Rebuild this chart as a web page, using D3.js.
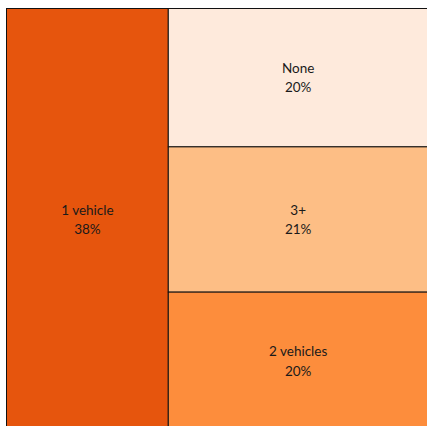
<!DOCTYPE html>
<html>
<head>
<meta charset="utf-8">
<style>
    body { margin: 0; background: #fff; }
    svg { display: block; overflow: hidden; }
    .cell rect { stroke: #111; stroke-width: 1; }
    .cell text {
        font-family: 'Lato', 'DejaVu Sans', sans-serif;
        font-size: 13.5px;
        fill: #1a1a1a;
        text-anchor: middle;
    }
</style>
</head>
<body>
<svg width="427" height="426"></svg>

<script src="https://d3js.org/d3.v7.min.js"></script>
<script>
    // vehicles per household, share in percent
    let categories = ["1 vehicle", "None", "3+", "2 vehicles"];
    let shares = [38, 20, 21, 20];
    let colors = ["#e6550d", "#feeadc", "#fdbe85", "#fd8d3c"];

    let width = 427;
    let height = 426;
    let margin = { top: 8.5, left: 6.5 };
    // the plot runs a little past the right and bottom edges of the picture
    let plotW = 421.5;
    let plotH = 422;

    let svg = d3.select("svg");

    // first category gets its own column, the rest are stacked on the right
    let tree = {
        name: "root",
        children: [
            { name: categories[0], value: shares[0], color: colors[0] },
            {
                name: "rest",
                children: categories.slice(1).map(function (c, i) {
                    return { name: c, value: shares[i + 1], color: colors[i + 1] };
                })
            }
        ]
    };

    let root = d3.hierarchy(tree).sum(function (d) { return d.value || 0; });

    d3.treemap()
        .tile(d3.treemapSliceDice)
        .size([plotW, plotH])
        .round(false)(root);

    let g = svg.append("g")
        .attr("transform", `translate(${margin.left},${margin.top})`);

    let cells = g.selectAll(".cell")
        .data(root.leaves())
        .enter().append("g")
        .attr("class", "cell");

    cells.append("rect")
        .attr("x", function (d) { return d.x0; })
        .attr("y", function (d) { return d.y0; })
        .attr("width", function (d) { return d.x1 - d.x0; })
        .attr("height", function (d) { return d.y1 - d.y0; })
        .style("fill", function (d) { return d.data.color; });

    let labels = cells.append("text")
        .attr("x", function (d) { return (d.x0 + d.x1) / 2; })
        .attr("y", function (d) { return (d.y0 + d.y1) / 2; });

    labels.append("tspan")
        .attr("x", function (d) { return (d.x0 + d.x1) / 2; })
        .attr("dy", -5)
        .text(function (d) { return d.data.name; });

    labels.append("tspan")
        .attr("x", function (d) { return (d.x0 + d.x1) / 2; })
        .attr("dy", 19.5)
        .text(function (d) { return d.data.value + "%"; });
</script>
</body>
</html>
